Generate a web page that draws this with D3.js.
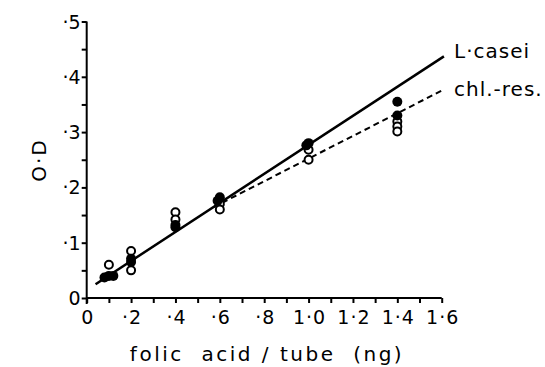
<!DOCTYPE html>
<html>
<head>
<meta charset="utf-8">
<script src="https://cdn.jsdelivr.net/npm/d3@7"></script>
<style>
  body { margin: 0; background: #fff; }
  text { font-family: "DejaVu Sans", sans-serif; fill: #000; }
</style>
</head>
<body>
<script>
// filled circles: L. casei
const caseiX = [0.08, 0.10, 0.12, 0.20, 0.20, 0.40, 0.40, 0.60, 0.59, 1.00, 0.99, 1.40, 1.40];
const caseiY = [0.037, 0.040, 0.040, 0.065, 0.071, 0.132, 0.128, 0.182, 0.176, 0.280, 0.276, 0.355, 0.330];
// open circles: chl.-res.
const resX = [0.10, 0.20, 0.20, 0.40, 0.40, 0.60, 0.60, 1.00, 1.00, 1.40, 1.40, 1.40];
const resY = [0.060, 0.085, 0.050, 0.155, 0.142, 0.170, 0.160, 0.268, 0.250, 0.319, 0.310, 0.301];
// fitted lines (end points)
const caseiLineX = [0.04, 1.61];
const caseiLineY = [0.025, 0.437];
const resLineX = [0.57, 1.60];
const resLineY = [0.164, 0.375];

const xTicks = [0, 0.2, 0.4, 0.6, 0.8, 1.0, 1.2, 1.4, 1.6];
const xTickLabels = ["0", "·2", "·4", "·6", "·8", "1·0", "1·2", "1·4", "1·6"];
const yTicks = [0, 0.1, 0.2, 0.3, 0.4, 0.5];
const yTickLabels = ["0", "·1", "·2", "·3", "·4", "·5"];

const width = 545, height = 367;
const x = d3.scaleLinear().domain([0, 1.6]).range([86.7, 441.7]);
const y = d3.scaleLinear().domain([0, 0.5]).range([298, 21.5]);

const svg = d3.create("svg").attr("width", width).attr("height", height);

// y axis
svg.append("g")
  .attr("transform", `translate(${x(0)},0)`)
  .call(d3.axisLeft(y).tickValues(d3.range(0, 0.501, 0.05)).tickSize(5).tickFormat(""))
  .call(g => g.select(".domain").attr("d", `M0,${y(0) + 6}V${y(0.5)}`))
  .call(g => g.selectAll("line, path").attr("stroke", "#000").attr("stroke-width", 2));

svg.append("g").selectAll("text")
  .data(yTicks)
  .join("text")
  .attr("x", x(0) - 6)
  .attr("y", d => y(d) + 7)
  .attr("text-anchor", "end")
  .attr("font-size", 19)
  .text((d, i) => yTickLabels[i]);

// x axis
svg.append("g")
  .attr("transform", `translate(0,${y(0)})`)
  .call(d3.axisBottom(x).tickValues(d3.range(0, 1.601, 0.1)).tickSize(5).tickFormat(""))
  .call(g => g.select(".domain").attr("d", `M${x(0)},0H${x(1.6)}`))
  .call(g => g.selectAll("line, path").attr("stroke", "#000").attr("stroke-width", 2));

svg.append("g").selectAll("text")
  .data(xTicks)
  .join("text")
  .attr("x", d => x(d) + 1)
  .attr("y", 324)
  .attr("text-anchor", "middle")
  .attr("font-size", 19)
  .attr("letter-spacing", 1)
  .text((d, i) => xTickLabels[i]);

// axis titles
svg.append("text")
  .attr("transform", "translate(46,160) rotate(-90)")
  .attr("text-anchor", "middle")
  .attr("font-size", 20)
  .attr("letter-spacing", 2)
  .text("O·D");

svg.append("text")
  .attr("x", 267).attr("y", 361)
  .attr("text-anchor", "middle")
  .attr("font-size", 20)
  .attr("letter-spacing", 2.5)
  .style("white-space", "pre")
  .text("folic  acid / tube  (ng)");

// lines
const line = d3.line().x(d => x(d[0])).y(d => y(d[1]));
svg.append("path")
  .attr("d", line(d3.zip(caseiLineX, caseiLineY)))
  .attr("fill", "none").attr("stroke", "#000").attr("stroke-width", 2.5);
svg.append("path")
  .attr("d", line(d3.zip(resLineX, resLineY)))
  .attr("fill", "none").attr("stroke", "#000").attr("stroke-width", 2)
  .attr("stroke-dasharray", "6,4");

// points
svg.append("g").selectAll("circle")
  .data(d3.zip(resX, resY))
  .join("circle")
  .attr("cx", d => x(d[0])).attr("cy", d => y(d[1]))
  .attr("r", 4)
  .attr("fill", "#fff").attr("stroke", "#000").attr("stroke-width", 2);
svg.append("g").selectAll("circle")
  .data(d3.zip(caseiX, caseiY))
  .join("circle")
  .attr("cx", d => x(d[0])).attr("cy", d => y(d[1]))
  .attr("r", 5)
  .attr("fill", "#000");

// legend labels
svg.append("text").attr("x", 454).attr("y", 58).attr("font-size", 20).attr("letter-spacing", 1).text("L·casei");
svg.append("text").attr("x", 454).attr("y", 96).attr("font-size", 20).attr("letter-spacing", 1).text("chl.-res.");

document.body.appendChild(svg.node());
</script>
</body>
</html>
